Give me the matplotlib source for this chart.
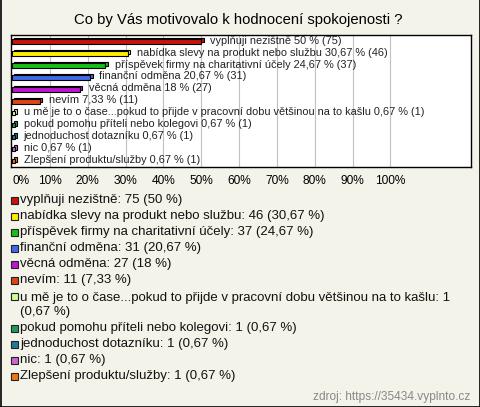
import matplotlib.pyplot as plt
from matplotlib.patches import Rectangle

plt.rcParams['font.family'] = ['Liberation Sans', 'DejaVu Sans']

# data
odpovedi = ['vyplňuji nezištně', 'nabídka slevy na produkt nebo službu',
            'příspěvek firmy na charitativní účely', 'finanční odměna',
            'věcná odměna', 'nevím',
            'u mě je to o čase...pokud to přijde v pracovní dobu většinou na to kašlu',
            'pokud pomohu příteli nebo kolegovi', 'jednoduchost dotazníku',
            'nic', 'Zlepšení produktu/služby']
pocty = [75, 46, 37, 31, 27, 11, 1, 1, 1, 1, 1]
procenta = [50, 30.67, 24.67, 20.67, 18, 7.33, 0.67, 0.67, 0.67, 0.67, 0.67]
barvy = ['#c8140c', '#ffee00', '#16c016', '#4169e8', '#c014d0', '#e04412',
         '#ccff99', '#229955', '#1f7a99', '#cc66cc', '#ee7711']
tick_labels = ['0%', '10%', '20%', '30%', '40%', '50%', '60%', '70%', '80%', '90%', '100%']

def fmt(p):
    s = f'{p:.2f}'.rstrip('0').rstrip('.')
    return s.replace('.', ',')

W, H = 480, 407
fig = plt.figure(figsize=(W / 100, H / 100), dpi=100)
fig.patch.set_facecolor('#f4f3ea')

# okraj
for xs, ys in [((0.5, 0.5), (0, H)), ((W - 0.5, W - 0.5), (0, H)), ((0, W), (0.5, 0.5))]:
    fig.add_artist(plt.Line2D([x / W for x in xs], [y / H for y in ys], color='black', lw=1.2))

fig.text(238 / W, 1 - 20 / H, 'Co by Vás motivovalo k hodnocení spokojenosti ?',
         ha='center', va='center', fontsize=10.7)

ax = fig.add_axes([11 / W, 1 - 167 / H, 460 / W, 132 / H])
ax.set_facecolor('white')
ax.set_xlim(-0.3, 121.3)
ax.set_ylim(10.5, -0.55)
for g in range(10, 101, 10):
    ax.axvline(g, color='#c0c0c0', lw=0.8, zorder=0)

y = list(range(len(procenta)))
h = 0.37
dx, dy = 0.6, 0.13
for i in y:
    ax.barh(i - dy, procenta[i], left=dx, height=h, color=barvy[i],
            edgecolor='black', lw=0.8, zorder=2)
    ax.barh(i, procenta[i], height=h, color=barvy[i], edgecolor='black', lw=0.8, zorder=3)
    ax.text(procenta[i] + 2.4, i - 0.08, f'{odpovedi[i]} {fmt(procenta[i])} % ({pocty[i]})',
            va='center', ha='left', fontsize=7.9, color='#222222', zorder=4)

ax.set_xticks(range(0, 101, 10))
ax.set_xticklabels(tick_labels, fontsize=8.6)
ax.get_xticklabels()[0].set_ha('left')
ax.tick_params(axis='x', length=0, pad=6)
ax.set_yticks([])
for s in ax.spines.values():
    s.set_color('black')
    s.set_linewidth(1)

# legenda
radky = [0, 1, 2, 3, 4, 5, 6, 8, 9, 10, 11]
for i, k in enumerate(radky):
    yc = 201 + 15.95 * k
    fig.add_artist(Rectangle((11 / W, 1 - (yc + 3.5) / H), 7 / W, 7 / H,
                             facecolor=barvy[i], edgecolor='#222222', lw=0.8,
                             transform=fig.transFigure))
    txt = f'{odpovedi[i]}: {pocty[i]} ({fmt(procenta[i])} %)'
    if i == 6:
        txt = f'{odpovedi[i]}: {pocty[i]}\n({fmt(procenta[i])} %)'
        fig.text(20 / W, 1 - (yc - 4.5) / H, txt, ha='left', va='top',
                 fontsize=9.5, color='#111111', linespacing=1.2)
        continue
    fig.text(20 / W, 1 - (yc - 0.5) / H, txt, ha='left', va='center',
             fontsize=9.5, color='#111111')

fig.text(470 / W, 1 - 397 / H, 'zdroj: https://35434.vyplnto.cz', ha='right', va='center',
         fontsize=8.6, color='#888888')

fig.savefig('out.png', dpi=100, facecolor=fig.get_facecolor())
